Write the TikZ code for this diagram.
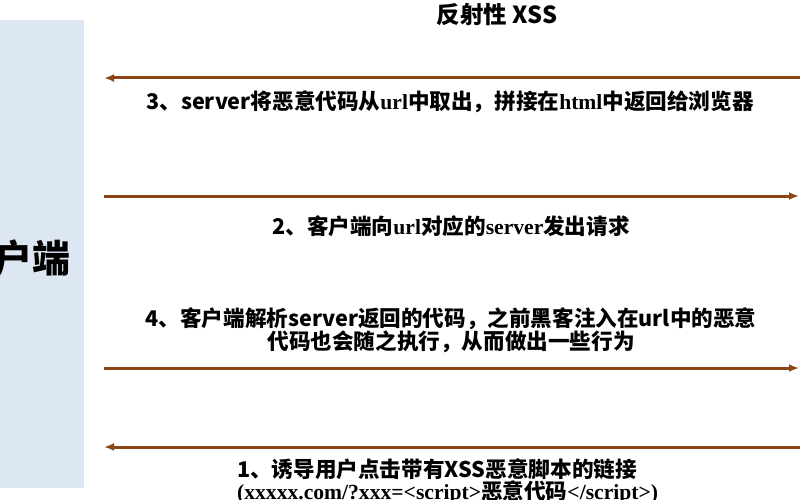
\documentclass[tikz,border=0pt]{standalone}
\usepackage{fontspec}
\setmainfont{Noto Sans CJK SC}
\newfontfamily\latfont{Liberation Serif}
\usetikzlibrary{arrows.meta}
\definecolor{flowbrown}{RGB}{140,70,22}
\definecolor{clientblue}{RGB}{221,231,243}
\newcommand{\lat}[1]{{\latfont #1}}
\tikzset{
    flow/.style={line width=3pt, draw=flowbrown, -{Latex[length=10pt, width=8pt]}},
    msg/.style={font=\bfseries\fontsize{21.6}{22}\selectfont, inner sep=0pt},
}
\begin{document}
\begin{tikzpicture}[x=1pt, y=-1pt]
    \useasboundingbox (0, 0) rectangle (800, 500);
        \node[fill=clientblue, anchor=north west, inner sep=0pt, minimum width=84pt, minimum height=468pt] (client) at (0, 20) {};
        \node[font=\bfseries\fontsize{38}{40}\selectfont] (clientname) at (14, 258) {客户端};
        \node[msg, font=\bfseries\fontsize{23.5}{24}\selectfont] (title) at (497, 15) {反射性 XSS};
        \coordinate (tip3) at (104, 78);    \coordinate (end3) at (800, 78);
        \coordinate (end2) at (104, 196);   \coordinate (tip2) at (799, 196);
        \coordinate (end4) at (104, 368);   \coordinate (tip4) at (799, 368);
        \coordinate (tip1) at (104, 447);   \coordinate (end1) at (800, 447);
        \draw[flow] (end3) -- (tip3);
        \draw[flow] (end2) -- (tip2);
        \draw[flow] (end4) -- (tip4);
        \draw[flow] (end1) -- (tip1);        %
        \node[msg] (step3) at (450, 102) {3、server将恶意代码从\lat{url}中取出，拼接在\lat{html}中返回给浏览器};
        \node[msg] (step2) at (451, 226) {2、客户端向\lat{url}对应的\lat{server}发出请求};
        \node[msg, align=center] (step4) at (451, 330) {4、客户端解析server返回的代码，之前黑客注入在url中的恶意\\代码也会随之执行，从而做出一些行为};
        \node[msg, align=left, anchor=west] (step1) at (237, 481) {1、诱导用户点击带有XSS恶意脚本的链接\\\lat{(xxxxx.com/?xxx=<script>}恶意代码\lat{</script>)}};
    \end{tikzpicture}
\end{document}
